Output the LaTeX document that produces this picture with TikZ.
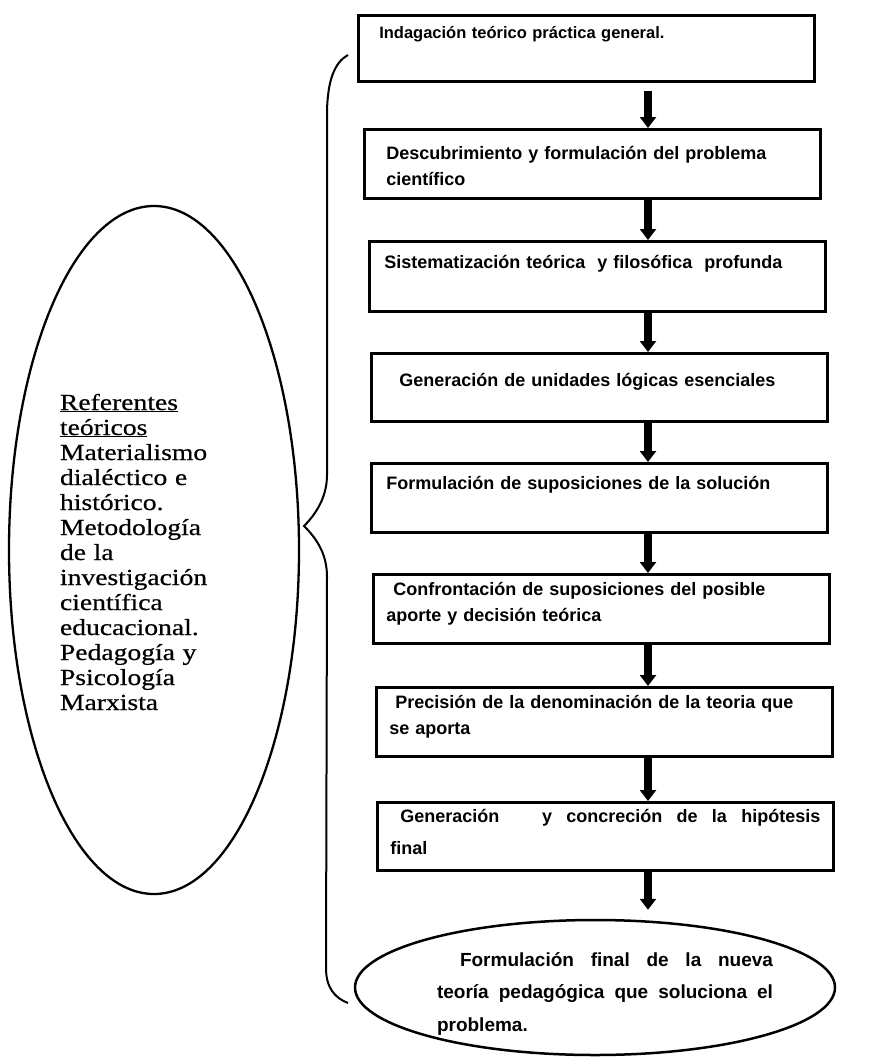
\documentclass[tikz,border=0pt]{standalone}
\usepackage{fontspec}
\usepackage{tikz}
\usetikzlibrary{arrows.meta,shapes.geometric}
\newfontfamily\sansb{Liberation Sans}
\newfontfamily\serifr{Liberation Serif}[FakeStretch=1.2,FakeBold=0.6]
\newcommand{\boxfont}{\sansb\bfseries\fontsize{18}{26.5}\selectfont}
\newcommand{\reffont}{\serifr\fontsize{23}{25}\selectfont}

\begin{document}
\begin{tikzpicture}[x=1pt,y=-1pt,>=Latex, every node/.style={font=\boxfont}]
\tikzstyle{stepbox}=[draw, line width=2.6pt, anchor=north west, minimum width=456pt, minimum height=69pt, text width=430pt, inner xsep=13pt, inner ysep=0pt, align=left, text height=14pt, text depth=30pt]
\tikzstyle{flow}=[-{Triangle[width=16pt,length=11pt]}, line width=8pt]
\useasboundingbox (0,0) rectangle (885,1063);
% left side: theoretical references
\node[draw, ellipse, line width=2.3pt, minimum width=290pt, minimum height=688pt, text width=188pt, align=left, font=\reffont, text height=16pt, text depth=296pt] (refs) at (154,550) {\underline{Referentes}\\\underline{teóricos}\\Materialismo\\dialéctico e\\histórico.\\Metodología\\de la\\investigación\\científica\\educacional.\\Pedagogía y\\Psicología\\Marxista};
\draw[line width=2pt] (348,55) .. controls (335,62) and (327,80) .. (327,115) -- (327,475) .. controls (327,497) and (316,514) .. (304,526) .. controls (316,538) and (327,553) .. (327,577) -- (326,968) .. controls (326,988) and (335,998) .. (348,1003);
% steps
\node[stepbox, minimum height=66pt, text depth=34pt, font=\sansb\bfseries\fontsize{16.5}{26.5}\selectfont] (b1) at (357,14) {\hspace*{8pt}Indagación teórico práctica general.};
\node[stepbox, text depth=23pt] (b2) at (363,128) {\hspace*{9pt}Descubrimiento y formulación del problema\\\hspace*{9pt}científico};
\node[stepbox, minimum height=70pt] (b3) at (368,240) {\hspace*{2pt}Sistematización teórica\ \ y filosófica\ \ profunda};
\node[stepbox, minimum height=68pt, text depth=16pt] (b4) at (370,352) {\hspace*{15pt}Generación de unidades lógicas esenciales};
\node[stepbox, text depth=31pt] (b5) at (370,462) {\hspace*{2pt}Formulación de suposiciones de la solución};
\node[stepbox, text depth=41pt] (b6) at (372,573) {\hspace*{7pt}Confrontación de suposiciones del posible\\aporte y decisión teórica};
\node[stepbox, text depth=41pt] (b7) at (375,686) {\hspace*{6pt}Precisión de la denominación de la teoria que\\se aporta};
\node[stepbox, minimum height=68pt, text depth=42pt, align=justify, font=\sansb\bfseries\fontsize{18}{32}\selectfont] (b8) at (376,801) {\hspace*{10pt}Generación\ \ \ y concreción de la hipótesis\linebreak final};
\node[draw, ellipse, line width=2.5pt, minimum width=480pt, minimum height=135pt, text width=356pt, inner xsep=-20pt, align=justify, font=\sansb\bfseries\fontsize{19}{32.5}\selectfont, text height=14pt, text depth=57pt] (fin) at (595,987.5) {\hspace*{43pt}Formulación final de la nueva\linebreak\hspace*{20pt}teoría pedagógica que soluciona el\linebreak\hspace*{20pt}problema.};
% arrows
\coordinate (ax) at (648,0);
\draw[flow, shorten <=8pt] (b1.south -| ax)--(b2.north -| ax); \draw[flow] (b2.south -| ax)--(b3.north -| ax); \draw[flow] (b3.south -| ax)--(b4.north -| ax); \draw[flow] (b4.south -| ax)--(b5.north -| ax);
\draw[flow] (b5.south -| ax)--(b6.north -| ax); \draw[flow] (b6.south -| ax)--(b7.north -| ax); \draw[flow] (b7.south -| ax)--(b8.north -| ax); \draw[flow, shorten >=9pt] (b8.south -| ax)--(fin.north -| ax);
\end{tikzpicture}
\end{document}
